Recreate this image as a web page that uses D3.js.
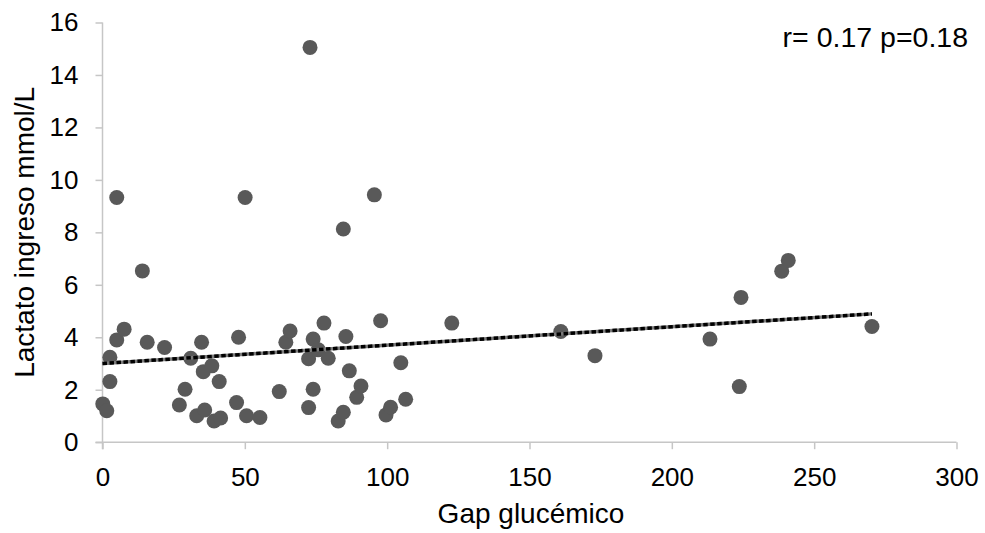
<!DOCTYPE html>
<html>
<head>
<meta charset="utf-8">
<script src="https://cdn.jsdelivr.net/npm/d3@7/dist/d3.min.js"></script>
<style>
  html, body { margin: 0; padding: 0; background: #fff; }
  svg text { font-family: "Liberation Sans", Arial, sans-serif; fill: #000; }
</style>
</head>
<body>
<svg id="chart" width="985" height="533"></svg>
<script>
// Glycemic gap (x) vs admission lactate (y)
const gapGlucemico = [
  0.1, 1.5, 2.6, 2.6, 5.0, 7.6, 15.7, 21.8, 27.0, 29.0, 31.0, 33.1, 34.8, 35.4, 35.9,
  38.4, 39.2, 41.0, 41.5, 47.1, 47.8, 50.6, 55.3, 62.1, 64.4, 65.9, 72.4, 72.4, 74.0,
  74.0, 75.8, 77.8, 79.3, 82.8, 84.6, 85.5, 86.7, 89.3, 90.8, 97.7, 99.6, 101.2, 104.8,
  106.5, 122.7, 5.0, 14.0, 50.1, 84.6, 95.5, 72.9, 161.0, 173.0, 213.4, 223.7, 224.3,
  238.6, 240.9, 270.3
];
const lactato = [
  1.46, 1.2, 3.24, 2.31, 3.9, 4.31, 3.81, 3.61, 1.42, 2.02, 3.2, 1.01, 3.81, 2.69, 1.23,
  2.91, 0.81, 2.31, 0.92, 1.51, 4.0, 1.01, 0.94, 1.93, 3.81, 4.24, 3.18, 1.32, 3.93,
  2.02, 3.52, 4.54, 3.2, 0.81, 1.14, 4.03, 2.72, 1.71, 2.14, 4.63, 1.04, 1.33, 3.03,
  1.64, 4.54, 9.33, 6.53, 9.33, 8.13, 9.43, 15.05, 4.22, 3.30, 3.93, 2.12, 5.52,
  6.52, 6.93, 4.41
];

// Linear trend line fitted to the data (intercept, slope) over its x range
const trendCoef = [3.0, 0.0070];
const trendRange = [0, 270.3];

const xTicks = [0, 50, 100, 150, 200, 250, 300];
const yTicks = [0, 2, 4, 6, 8, 10, 12, 14, 16];
const xTitle = "Gap glucémico";
const yTitle = "Lactato ingreso mmol/L";
const statsLabel = "r= 0.17 p=0.18";

const svg = d3.select("#chart");
const plotLeft = 102.5, plotRight = 956.5, plotTop = 22.5, plotBottom = 442.2;
const tickLen = 7;

const x = d3.scaleLinear().domain([0, 300]).range([plotLeft, plotRight]);
const y = d3.scaleLinear().domain([0, 16]).range([plotBottom, plotTop]);

const axisColor = "#c6c6c6";
const fontFam = "Liberation Sans, Arial, sans-serif";
const tickFont = 26, titleFont = 28, noteFont = 28.5;

// X axis (line runs out to the left by one tick length, crossing the y axis)
const gx = svg.append("g")
  .attr("transform", `translate(0,${plotBottom})`)
  .call(d3.axisBottom(x).tickValues(xTicks).tickSize(tickLen).tickPadding(18).tickFormat(d3.format("d")));
gx.select(".domain").attr("stroke", axisColor).attr("stroke-width", 1.5)
  .attr("d", `M${plotLeft - tickLen},0H${plotRight}`);
gx.selectAll(".tick line").attr("stroke", axisColor).attr("stroke-width", 1.5);
gx.selectAll(".tick text").attr("font-size", tickFont).attr("fill", "#000").attr("font-family", fontFam);

// Y axis (line runs below the x axis by one tick length)
const gy = svg.append("g")
  .attr("transform", `translate(${plotLeft},0)`)
  .call(d3.axisLeft(y).tickValues(yTicks).tickSize(tickLen).tickPadding(17).tickFormat(d3.format("d")));
gy.select(".domain").attr("stroke", axisColor).attr("stroke-width", 1.5)
  .attr("d", `M0,${plotTop}V${plotBottom + tickLen}`);
gy.selectAll(".tick line").attr("stroke", axisColor).attr("stroke-width", 1.5);
gy.selectAll(".tick text").attr("font-size", tickFont).attr("fill", "#000").attr("font-family", fontFam);

// Points
const pts = gapGlucemico.map((g, i) => ({ g, l: lactato[i] }));
svg.append("g").selectAll("circle").data(pts).join("circle")
  .attr("cx", d => x(d.g))
  .attr("cy", d => y(d.l))
  .attr("r", 7.5)
  .attr("fill", "#595959");

// Trend line: gray base with black dashes on top
const trendPts = trendRange.map(v => [x(v), y(trendCoef[0] + trendCoef[1] * v)]);
const line = d3.line();
svg.append("path").attr("d", line(trendPts)).attr("stroke", "#7a7a7a").attr("stroke-width", 3.5).attr("fill", "none");
svg.append("path").attr("d", line(trendPts)).attr("stroke", "#000").attr("stroke-width", 3.5)
  .attr("stroke-dasharray", "4.5,2.5").attr("fill", "none");

// Titles
svg.append("text").attr("x", 531).attr("y", 523)
  .attr("text-anchor", "middle").attr("font-size", titleFont).text(xTitle);
svg.append("text").attr("transform", `translate(33.5,${(plotTop + plotBottom) / 2}) rotate(-90)`)
  .attr("text-anchor", "middle").attr("font-size", titleFont).text(yTitle);

// Correlation annotation
svg.append("text").attr("x", 968).attr("y", 47)
  .attr("text-anchor", "end").attr("font-size", noteFont).text(statsLabel);
</script>
</body>
</html>
